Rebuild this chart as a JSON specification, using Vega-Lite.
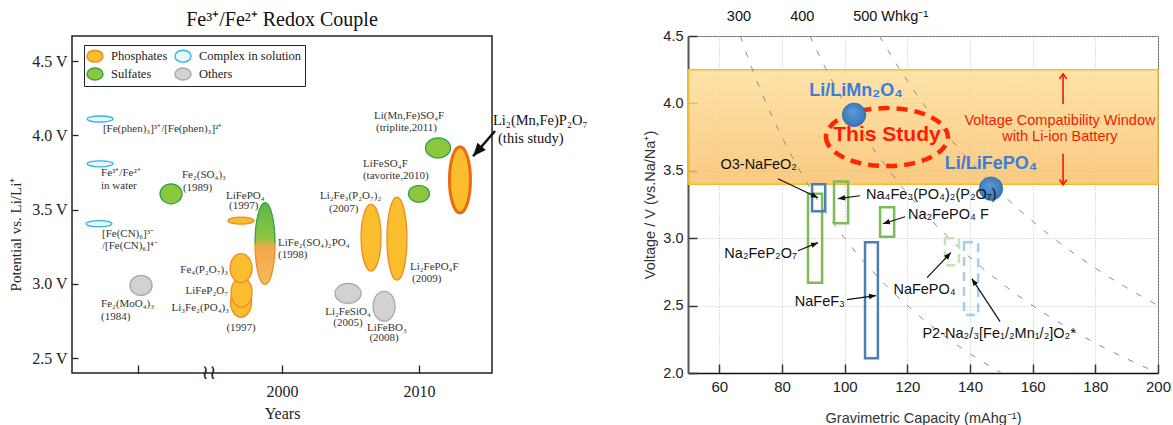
{
  "$schema": "https://vega.github.io/schema/vega-lite/v6.json",
  "background": "white",
  "padding": {"left": 7, "top": 8, "right": 5, "bottom": 2},
  "bounds": "flush",
  "spacing": 196,
  "config": {"view": {"stroke": null}, "font": "Liberation Sans"},
  "datasets": {
    "ell": [
      {"name": "[Fe(phen)₃]", "type": "Complex in solution", "year": 1986.72, "v": 4.111},
      {"name": "Fe³⁺/Fe²⁺ aq", "type": "Complex in solution", "year": 1986.72, "v": 3.809},
      {"name": "[Fe(CN)₆]", "type": "Complex in solution", "year": 1986.64, "v": 3.406},
      {"name": "Fe₂(MoO₄)₃", "type": "Others", "year": 1989.71, "v": 2.99},
      {"name": "Li₂FeSiO₄", "type": "Others", "year": 2004.82, "v": 2.936},
      {"name": "LiFeBO₃", "type": "Others", "year": 2007.45, "v": 2.849},
      {"name": "Fe₂(SO₄)₃", "type": "Sulfates", "year": 1991.9, "v": 3.607},
      {"name": "LiFeSO₄F", "type": "Sulfates", "year": 2010.0, "v": 3.607},
      {"name": "Li(Mn,Fe)SO₄F", "type": "Sulfates", "year": 2011.39, "v": 3.916},
      {"name": "LiFePO₄", "type": "Phosphates", "year": 1997.01, "v": 3.426},
      {"name": "Li₃Fe₂(PO₄)₃", "type": "Phosphates", "year": 1997.01, "v": 2.876},
      {"name": "LiFeP₂O₇", "type": "Phosphates", "year": 1997.05, "v": 2.943},
      {"name": "Fe₄(P₂O₇)₃", "type": "Phosphates", "year": 1997.01, "v": 3.107},
      {"name": "Li₂Fe₃(P₂O₇)₂", "type": "Phosphates", "year": 2006.5, "v": 3.312},
      {"name": "Li₂FePO₄F", "type": "Phosphates", "year": 2008.39, "v": 3.305}
    ],
    "ell_grad": [{"name": "LiFe₂(SO₄)₂PO₄", "year": 1998.76, "v": 3.272}],
    "ell_study": [{"name": "Li₂(Mn,Fe)P₂O₇", "year": 2012.99, "v": 3.701}],
    "big_arrow": [{"year": 2015.55, "v": 4.03, "year2": 2013.95, "v2": 3.86}],
    "brk": [{"year": 1994.67, "v": 2.4, "label": "≀≀"}],
    "lt_left": [
      {"label": "[Fe(phen)₃]³⁺/[Fe(phen)₃]²⁺", "year": 1986.93, "v": 4.044},
      {"label": "Fe³⁺/Fe²⁺", "year": 1986.79, "v": 3.748},
      {"label": "in water", "year": 1986.79, "v": 3.661},
      {"label": "Fe₂(SO₄)₃", "year": 1992.7, "v": 3.735},
      {"label": "(1989)", "year": 1992.77, "v": 3.648},
      {"label": "LiFePO₄", "year": 1995.91, "v": 3.594},
      {"label": "(1997)", "year": 1996.13, "v": 3.527},
      {"label": "[Fe(CN)₆]³⁻", "year": 1986.86, "v": 3.339},
      {"label": "/[Fe(CN)₆]⁴⁻", "year": 1986.86, "v": 3.258},
      {"label": "Fe₂(MoO₄)₃", "year": 1986.79, "v": 2.862},
      {"label": "(1984)", "year": 1986.79, "v": 2.775},
      {"label": "LiFe₂(SO₄)₂PO₄", "year": 1999.71, "v": 3.279},
      {"label": "(1998)", "year": 1999.71, "v": 3.198},
      {"label": "Li₂Fe₃(P₂O₇)₂", "year": 2002.77, "v": 3.594},
      {"label": "(2007)", "year": 2003.43, "v": 3.507},
      {"label": "LiFeSO₄F", "year": 2005.91, "v": 3.809},
      {"label": "(tavorite,2010)", "year": 2005.91, "v": 3.728},
      {"label": "Li(Mn,Fe)SO₄F", "year": 2006.72, "v": 4.131},
      {"label": "(triplite,2011)", "year": 2006.86, "v": 4.05},
      {"label": "Li₂FePO₄F", "year": 2009.34, "v": 3.111},
      {"label": "(2009)", "year": 2009.49, "v": 3.03}
    ],
    "lt_right": [
      {"label": "Fe₄(P₂O₇)₃", "year": 1996.06, "v": 3.097},
      {"label": "LiFeP₂O₇", "year": 1996.06, "v": 2.95},
      {"label": "Li₃Fe₂(PO₄)₃", "year": 1996.13, "v": 2.836}
    ],
    "lt_center": [
      {"label": "(1997)", "year": 1997.01, "v": 2.701},
      {"label": "Li₂FeSiO₄", "year": 2004.82, "v": 2.809},
      {"label": "(2005)", "year": 2004.82, "v": 2.735},
      {"label": "LiFeBO₃", "year": 2007.66, "v": 2.701},
      {"label": "(2008)", "year": 2007.45, "v": 2.634}
    ],
    "lt_big": [
      {"label": "Li₂(Mn,Fe)P₂O₇", "year": 2015.4, "v": 4.097},
      {"label": "(this study)", "year": 2015.77, "v": 3.977}
    ],
    "band": [{"v": 3.4, "v2": 4.25}],
    "energy": [
      {"e": 300, "c": 66.67, "v": 4.5}, {"e": 300, "c": 70, "v": 4.286}, {"e": 300, "c": 75, "v": 4.0},
      {"e": 300, "c": 80, "v": 3.75}, {"e": 300, "c": 90, "v": 3.333}, {"e": 300, "c": 100, "v": 3.0},
      {"e": 300, "c": 110, "v": 2.727}, {"e": 300, "c": 120, "v": 2.5}, {"e": 300, "c": 135, "v": 2.222},
      {"e": 300, "c": 150, "v": 2.0},
      {"e": 400, "c": 88.89, "v": 4.5}, {"e": 400, "c": 95, "v": 4.211}, {"e": 400, "c": 100, "v": 4.0},
      {"e": 400, "c": 110, "v": 3.636}, {"e": 400, "c": 120, "v": 3.333}, {"e": 400, "c": 135, "v": 2.963},
      {"e": 400, "c": 150, "v": 2.667}, {"e": 400, "c": 165, "v": 2.424}, {"e": 400, "c": 180, "v": 2.222},
      {"e": 400, "c": 200, "v": 2.0},
      {"e": 500, "c": 111.11, "v": 4.5}, {"e": 500, "c": 115, "v": 4.348}, {"e": 500, "c": 120, "v": 4.167},
      {"e": 500, "c": 130, "v": 3.846}, {"e": 500, "c": 140, "v": 3.571}, {"e": 500, "c": 150, "v": 3.333},
      {"e": 500, "c": 165, "v": 3.03}, {"e": 500, "c": 180, "v": 2.778}, {"e": 500, "c": 200, "v": 2.5}
    ],
    "box_green": [
      {"name": "Na₂FeP₂O₇", "c": 88.3, "c2": 92.8, "v": 2.67, "v2": 3.33},
      {"name": "Na₄Fe₃(PO₄)₂(P₂O₇)", "c": 96.6, "c2": 101.1, "v": 3.11, "v2": 3.42},
      {"name": "Na₂FePO₄F", "c": 111.3, "c2": 115.8, "v": 3.01, "v2": 3.23}
    ],
    "box_blue": [
      {"name": "O3-NaFeO₂", "c": 89.6, "c2": 93.8, "v": 3.2, "v2": 3.4},
      {"name": "NaFeF₃", "c": 106.5, "c2": 110.6, "v": 2.11, "v2": 2.97}
    ],
    "box_lgreen": [{"name": "NaFePO₄", "c": 132.0, "c2": 136.5, "v": 2.8, "v2": 3.0}],
    "box_lblue": [{"name": "P2-Na₂/₃[Fe₁/₂Mn₁/₂]O₂", "c": 138.1, "c2": 142.6, "v": 2.43, "v2": 2.97}],
    "arrows": [
      {"c": 78.7, "v": 3.441, "c2": 91.5, "v2": 3.3},
      {"c": 104.9, "v": 3.315, "c2": 97.9, "v2": 3.293},
      {"c": 119.3, "v": 3.159, "c2": 112.2, "v2": 3.107},
      {"c": 85.1, "v": 2.907, "c2": 91.5, "v2": 2.967},
      {"c": 100.7, "v": 2.544, "c2": 110.0, "v2": 2.574},
      {"c": 126.3, "v": 2.707, "c2": 133.9, "v2": 2.893},
      {"c": 149.6, "v": 2.381, "c2": 140.6, "v2": 2.7}
    ],
    "red_arrows": [
      {"c": 169.7, "v": 3.996, "c2": 169.7, "v2": 4.219},
      {"c": 169.7, "v": 3.626, "c2": 169.7, "v2": 3.396}
    ],
    "refs": [
      {"name": "Li/LiMn₂O₄", "c": 103.0, "v": 3.915},
      {"name": "Li/LiFePO₄", "c": 146.7, "v": 3.367}
    ],
    "ref_labels": [
      {"label": "Li/LiMn₂O₄", "c": 103.6, "v": 4.089},
      {"label": "Li/LiFePO₄", "c": 146.7, "v": 3.552}
    ],
    "study_ring": [{"c": 113.5, "v": 3.75}],
    "study_label": [{"label": "This Study", "c": 113.5, "v": 3.767}],
    "window_label": [
      {"label": "Voltage Compatibility Window", "c": 168.7, "v": 3.87},
      {"label": "with Li-ion Battery", "c": 168.7, "v": 3.752}
    ],
    "r_left": [
      {"label": "Na₄Fe₃(PO₄)₂(P₂O₇)", "c": 106.8, "v": 3.322},
      {"label": "Na₂FePO₄ F", "c": 120.2, "v": 3.174}
    ],
    "r_right": [
      {"label": "O3-NaFeO₂", "c": 84.79, "v": 3.544},
      {"label": "Na₂FeP₂O₇", "c": 84.79, "v": 2.885},
      {"label": "NaFeF₃", "c": 100.11, "v": 2.53}
    ],
    "r_center": [
      {"label": "NaFePO₄", "c": 125.5, "v": 2.619},
      {"label": "P2-Na₂/₃[Fe₁/₂Mn₁/₂]O₂*", "c": 149.3, "v": 2.293}
    ],
    "top_labels": [
      {"label": "300", "c": 62.4, "v": 4.641},
      {"label": "400", "c": 82.6, "v": 4.641},
      {"label": "500 Whkg⁻¹", "c": 102.7, "v": 4.641}
    ]
  },
  "hconcat": [
    {
      "width": 420,
      "height": 337,
      "view": {"stroke": "#222", "strokeWidth": 1.5},
      "title": {"text": "Fe³⁺/Fe²⁺ Redox Couple", "font": "Liberation Serif", "fontSize": 20, "fontWeight": "normal", "color": "#111", "offset": 6},
      "layer": [
        {
          "data": {"name": "ell"},
          "mark": {"type": "point", "filled": true, "opacity": 1, "size": 4, "strokeWidth": 1.3},
          "encoding": {
            "x": {
              "field": "year", "type": "quantitative",
              "scale": {"domain": [1984.67, 2015.33], "nice": false, "zero": false},
              "axis": {
                "title": "Years", "values": [1989.5, 2000, 2010],
                "labelExpr": "datum.value < 1995 ? '' : format(datum.value, 'd')",
                "grid": false, "domain": false, "tickSize": -8, "tickColor": "#222", "tickWidth": 1.3,
                "labelPadding": 18, "labelFlush": false, "labelFont": "Liberation Serif", "labelFontSize": 16, "labelColor": "#222",
                "titleFont": "Liberation Serif", "titleFontSize": 16, "titleFontWeight": "normal", "titleColor": "#222", "titlePadding": 6
              }
            },
            "y": {
              "field": "v", "type": "quantitative",
              "scale": {"domain": [2.4, 4.67], "nice": false, "zero": false},
              "axis": {
                "title": "Potential vs. Li/Li⁺", "values": [2.5, 3, 3.5, 4, 4.5],
                "labelExpr": "format(datum.value, '.1f') + ' V'",
                "grid": false, "domain": false, "tickSize": -6, "tickColor": "#222", "tickWidth": 1.3,
                "labelPadding": 11, "labelFont": "Liberation Serif", "labelFontSize": 16, "labelColor": "#222",
                "titleFont": "Liberation Serif", "titleFontSize": 15, "titleFontWeight": "normal", "titleColor": "#222",
                "titleX": -57, "titleY": 198, "titleAngle": -90, "titleBaseline": "middle", "titleAlign": "center"
              }
            },
            "shape": {
              "field": "name", "type": "nominal", "legend": null,
              "scale": {
                "domain": ["[Fe(phen)₃]", "Fe³⁺/Fe²⁺ aq", "[Fe(CN)₆]", "Fe₂(MoO₄)₃", "Li₂FeSiO₄", "LiFeBO₃", "Fe₂(SO₄)₃", "LiFeSO₄F", "Li(Mn,Fe)SO₄F", "LiFePO₄", "Li₃Fe₂(PO₄)₃", "LiFeP₂O₇", "Fe₄(P₂O₇)₃", "Li₂Fe₃(P₂O₇)₂", "Li₂FePO₄F"],
                "range": [
                  "M-13,0A13,3 0 1,0 13,0A13,3 0 1,0 -13,0Z",
                  "M-13,0A13,3 0 1,0 13,0A13,3 0 1,0 -13,0Z",
                  "M-13,0A13,3 0 1,0 13,0A13,3 0 1,0 -13,0Z",
                  "M-11,0A11,10 0 1,0 11,0A11,10 0 1,0 -11,0Z",
                  "M-13,0A13,10 0 1,0 13,0A13,10 0 1,0 -13,0Z",
                  "M-11,0A11,15 0 1,0 11,0A11,15 0 1,0 -11,0Z",
                  "M-11,0A11,10 0 1,0 11,0A11,10 0 1,0 -11,0Z",
                  "M-10.5,0A10.5,8.5 0 1,0 10.5,0A10.5,8.5 0 1,0 -10.5,0Z",
                  "M-12.5,0A12.5,10 0 1,0 12.5,0A12.5,10 0 1,0 -12.5,0Z",
                  "M-13,0A13,3.5 0 1,0 13,0A13,3.5 0 1,0 -13,0Z",
                  "M-10.5,0A10.5,15 0 1,0 10.5,0A10.5,15 0 1,0 -10.5,0Z",
                  "M-10.5,0A10.5,15 0 1,0 10.5,0A10.5,15 0 1,0 -10.5,0Z",
                  "M-11,0A11,14.5 0 1,0 11,0A11,14.5 0 1,0 -11,0Z",
                  "M-10,0A10,33.5 0 1,0 10,0A10,33.5 0 1,0 -10,0Z",
                  "M-10,0A10,41.5 0 1,0 10,0A10,41.5 0 1,0 -10,0Z"
                ]
              }
            },
            "fill": {
              "field": "type", "type": "nominal",
              "scale": {"domain": ["Phosphates", "Sulfates", "Complex in solution", "Others"], "range": ["#F9BD2E", "#8DC63F", "#EAF6FB", "#D2D2D2"]},
              "legend": {
                "title": null, "orient": "none", "legendX": 12, "legendY": 9, "columns": 2,
                "strokeColor": "#222", "fillColor": "white", "padding": 3, "columnPadding": 4, "rowPadding": 0,
                "symbolType": "M-1.15,0A1.15,0.85 0 1,0 1.15,0A1.15,0.85 0 1,0 -1.15,0Z", "symbolSize": 196, "symbolStrokeWidth": 1.4, "symbolOpacity": 1,
                "labelFont": "Liberation Serif", "labelFontSize": 12.5, "labelColor": "#222", "labelOffset": 8
              }
            },
            "stroke": {
              "field": "type", "type": "nominal",
              "scale": {"domain": ["Phosphates", "Sulfates", "Complex in solution", "Others"], "range": ["#F08A24", "#2FA24A", "#33B5E5", "#A8A8A8"]},
              "legend": {
                "title": null, "orient": "none", "legendX": 12, "legendY": 9, "columns": 2,
                "strokeColor": "#222", "fillColor": "white", "padding": 3, "columnPadding": 4, "rowPadding": 0,
                "symbolType": "M-1.15,0A1.15,0.85 0 1,0 1.15,0A1.15,0.85 0 1,0 -1.15,0Z", "symbolSize": 196, "symbolStrokeWidth": 1.4, "symbolOpacity": 1,
                "labelFont": "Liberation Serif", "labelFontSize": 12.5, "labelColor": "#222", "labelOffset": 8
              }
            }
          }
        },
        {
          "data": {"name": "ell_grad"},
          "mark": {
            "type": "point", "filled": true, "opacity": 1, "size": 4, "strokeWidth": 1.3,
            "shape": "M-10,0A10,41 0 1,0 10,0A10,41 0 1,0 -10,0Z",
            "fill": {"gradient": "linear", "x1": 0, "y1": 0, "x2": 0, "y2": 1, "stops": [
              {"offset": 0, "color": "#5DB847"}, {"offset": 0.42, "color": "#8CC541"},
              {"offset": 0.55, "color": "#F2A84A"}, {"offset": 1, "color": "#F6BA5E"}]},
            "stroke": {"gradient": "linear", "x1": 0, "y1": 0, "x2": 0, "y2": 1, "stops": [
              {"offset": 0, "color": "#2FA24A"}, {"offset": 0.48, "color": "#2FA24A"},
              {"offset": 0.52, "color": "#F08A24"}, {"offset": 1, "color": "#F08A24"}]}
          },
          "encoding": {
            "x": {"field": "year", "type": "quantitative"},
            "y": {"field": "v", "type": "quantitative"}
          }
        },
        {
          "data": {"name": "ell_study"},
          "mark": {
            "type": "point", "filled": true, "opacity": 1, "size": 4, "strokeWidth": 3,
            "shape": "M-10.5,0A10.5,33 0 1,0 10.5,0A10.5,33 0 1,0 -10.5,0Z",
            "fill": "#F9BD2E", "stroke": "#EE6A12"
          },
          "encoding": {
            "x": {"field": "year", "type": "quantitative"},
            "y": {"field": "v", "type": "quantitative"}
          }
        },
        {
          "data": {"name": "big_arrow"},
          "mark": {"type": "rule", "color": "#111", "strokeWidth": 2.5},
          "encoding": {
            "x": {"field": "year", "type": "quantitative"},
            "y": {"field": "v", "type": "quantitative"},
            "x2": {"field": "year2"},
            "y2": {"field": "v2"}
          }
        },
        {
          "data": {"name": "big_arrow"},
          "transform": [{"calculate": "atan2((datum.year2 - datum.year) * 13.7, (datum.v2 - datum.v) * 149) * 180 / PI", "as": "ang"}],
          "mark": {"type": "point", "filled": true, "opacity": 1, "size": 169, "shape": "M0,0L-0.85,2L0.85,2Z", "color": "#111"},
          "encoding": {
            "x": {"field": "year2", "type": "quantitative"},
            "y": {"field": "v2", "type": "quantitative"},
            "angle": {"field": "ang", "type": "quantitative", "scale": null}
          }
        },
        {
          "data": {"name": "brk"},
          "mark": {"type": "text", "font": "DejaVu Sans", "fontSize": 20, "color": "#222", "baseline": "middle", "align": "center"},
          "encoding": {
            "x": {"field": "year", "type": "quantitative"},
            "y": {"field": "v", "type": "quantitative"},
            "text": {"field": "label"}
          }
        },
        {
          "data": {"name": "lt_left"},
          "mark": {"type": "text", "font": "Liberation Serif", "fontSize": 11, "color": "#333", "align": "left", "baseline": "middle"},
          "encoding": {
            "x": {"field": "year", "type": "quantitative"},
            "y": {"field": "v", "type": "quantitative"},
            "text": {"field": "label"}
          }
        },
        {
          "data": {"name": "lt_right"},
          "mark": {"type": "text", "font": "Liberation Serif", "fontSize": 11, "color": "#333", "align": "right", "baseline": "middle"},
          "encoding": {
            "x": {"field": "year", "type": "quantitative"},
            "y": {"field": "v", "type": "quantitative"},
            "text": {"field": "label"}
          }
        },
        {
          "data": {"name": "lt_center"},
          "mark": {"type": "text", "font": "Liberation Serif", "fontSize": 11, "color": "#333", "align": "center", "baseline": "middle"},
          "encoding": {
            "x": {"field": "year", "type": "quantitative"},
            "y": {"field": "v", "type": "quantitative"},
            "text": {"field": "label"}
          }
        },
        {
          "data": {"name": "lt_big"},
          "mark": {"type": "text", "font": "Liberation Serif", "fontSize": 14.5, "color": "#111", "align": "left", "baseline": "middle"},
          "encoding": {
            "x": {"field": "year", "type": "quantitative"},
            "y": {"field": "v", "type": "quantitative"},
            "text": {"field": "label"}
          }
        }
      ]
    },
    {
      "width": 470,
      "height": 337,
      "view": {"stroke": "#666", "strokeWidth": 1},
      "layer": [
        {
          "data": {"name": "band"},
          "mark": {
            "type": "rect", "fillOpacity": 0.82, "stroke": "#F5BD2A", "strokeWidth": 1.5,
            "fill": {"gradient": "linear", "x1": 0, "y1": 0, "x2": 0, "y2": 1, "stops": [
              {"offset": 0, "color": "#FEDD97"}, {"offset": 1, "color": "#F8BE66"}]}
          },
          "encoding": {
            "y": {"field": "v", "type": "quantitative", "scale": {"domain": [2.0, 4.5], "nice": false, "zero": false}},
            "y2": {"field": "v2"}
          }
        },
        {
          "data": {"name": "energy"},
          "mark": {"type": "line", "clip": true, "interpolate": "monotone", "stroke": "#8C8C8C", "strokeWidth": 1, "strokeDash": [6, 10]},
          "encoding": {
            "x": {
              "field": "c", "type": "quantitative",
              "scale": {"domain": [50, 200], "nice": false, "zero": false},
              "axis": {
                "title": "Gravimetric Capacity (mAhg⁻¹)", "values": [60, 80, 100, 120, 140, 160, 180, 200],
                "grid": true, "gridColor": "#BDBDBD", "gridDash": [1, 2], "gridWidth": 1,
                "domainColor": "#111", "domainWidth": 1.5, "tickSize": -9, "tickColor": "#333", "tickWidth": 1.5,
                "labelPadding": 15, "labelFlush": false, "labelFont": "Liberation Sans", "labelFontSize": 15, "labelColor": "#222",
                "titleFont": "Liberation Sans", "titleFontSize": 14.5, "titleFontWeight": "normal", "titleColor": "#333", "titlePadding": 17
              }
            },
            "y": {
              "field": "v", "type": "quantitative",
              "scale": {"domain": [2.0, 4.5], "nice": false, "zero": false},
              "axis": {
                "title": "Voltage / V (vs.Na/Na⁺)", "values": [2.0, 2.5, 3.0, 3.5, 4.0, 4.5], "format": ".1f",
                "grid": true, "gridColor": "#BDBDBD", "gridDash": [1, 2], "gridWidth": 1,
                "domainColor": "#555", "domainWidth": 2, "tickSize": -9, "tickColor": "#333", "tickWidth": 1.5,
                "labelPadding": 14, "labelFont": "Liberation Sans", "labelFontSize": 14.5, "labelColor": "#222",
                "titleFont": "Liberation Sans", "titleFontSize": 14.5, "titleFontWeight": "normal", "titleColor": "#333", "titlePadding": 5
              }
            },
            "detail": {"field": "e", "type": "nominal"}
          }
        },
        {
          "data": {"name": "box_green"},
          "mark": {"type": "rect", "fillOpacity": 0, "stroke": "#7CBB55", "strokeWidth": 2.5},
          "encoding": {
            "x": {"field": "c", "type": "quantitative"}, "x2": {"field": "c2"},
            "y": {"field": "v", "type": "quantitative"}, "y2": {"field": "v2"}
          }
        },
        {
          "data": {"name": "box_blue"},
          "mark": {"type": "rect", "fillOpacity": 0, "stroke": "#4C7FB3", "strokeWidth": 2.5},
          "encoding": {
            "x": {"field": "c", "type": "quantitative"}, "x2": {"field": "c2"},
            "y": {"field": "v", "type": "quantitative"}, "y2": {"field": "v2"}
          }
        },
        {
          "data": {"name": "box_lgreen"},
          "mark": {"type": "rect", "fillOpacity": 0, "stroke": "#C5E3B3", "strokeWidth": 2.5, "strokeDash": [9, 6]},
          "encoding": {
            "x": {"field": "c", "type": "quantitative"}, "x2": {"field": "c2"},
            "y": {"field": "v", "type": "quantitative"}, "y2": {"field": "v2"}
          }
        },
        {
          "data": {"name": "box_lblue"},
          "mark": {"type": "rect", "fillOpacity": 0, "stroke": "#A8CCEB", "strokeWidth": 2.5, "strokeDash": [9, 6]},
          "encoding": {
            "x": {"field": "c", "type": "quantitative"}, "x2": {"field": "c2"},
            "y": {"field": "v", "type": "quantitative"}, "y2": {"field": "v2"}
          }
        },
        {
          "data": {"name": "arrows"},
          "mark": {"type": "rule", "color": "#111", "strokeWidth": 1.2},
          "encoding": {
            "x": {"field": "c", "type": "quantitative"}, "x2": {"field": "c2"},
            "y": {"field": "v", "type": "quantitative"}, "y2": {"field": "v2"}
          }
        },
        {
          "data": {"name": "arrows"},
          "transform": [{"calculate": "atan2((datum.c2 - datum.c) * 3.133, (datum.v2 - datum.v) * 135) * 180 / PI", "as": "ang"}],
          "mark": {"type": "point", "filled": true, "opacity": 1, "size": 49, "shape": "M0,0L-0.8,2L0.8,2Z", "color": "#111"},
          "encoding": {
            "x": {"field": "c2", "type": "quantitative"},
            "y": {"field": "v2", "type": "quantitative"},
            "angle": {"field": "ang", "type": "quantitative", "scale": null}
          }
        },
        {
          "data": {"name": "red_arrows"},
          "mark": {"type": "rule", "color": "#F21B00", "strokeWidth": 1.6},
          "encoding": {
            "x": {"field": "c", "type": "quantitative"}, "x2": {"field": "c2"},
            "y": {"field": "v", "type": "quantitative"}, "y2": {"field": "v2"}
          }
        },
        {
          "data": {"name": "red_arrows"},
          "transform": [{"calculate": "atan2((datum.c2 - datum.c) * 3.133, (datum.v2 - datum.v) * 135) * 180 / PI", "as": "ang"}],
          "mark": {"type": "point", "filled": false, "opacity": 1, "size": 64, "shape": "M-0.9,1.3L0,0L0.9,1.3", "stroke": "#F21B00", "strokeWidth": 1.6},
          "encoding": {
            "x": {"field": "c2", "type": "quantitative"},
            "y": {"field": "v2", "type": "quantitative"},
            "angle": {"field": "ang", "type": "quantitative", "scale": null}
          }
        },
        {
          "data": {"name": "study_ring"},
          "mark": {"type": "point", "filled": false, "opacity": 1, "size": 4, "shape": "M-61,0A61,29 0 1,0 61,0A61,29 0 1,0 -61,0Z", "stroke": "#FF2600", "strokeWidth": 4.5, "strokeDash": [11, 7]},
          "encoding": {
            "x": {"field": "c", "type": "quantitative"},
            "y": {"field": "v", "type": "quantitative"}
          }
        },
        {
          "data": {"name": "refs"},
          "mark": {
            "type": "point", "filled": true, "opacity": 1, "shape": "circle", "size": 560, "stroke": "#2F6196", "strokeWidth": 0.5,
            "fill": {"gradient": "radial", "x1": 0.42, "y1": 0.35, "r1": 0, "x2": 0.5, "y2": 0.5, "r2": 0.6, "stops": [
              {"offset": 0, "color": "#5E9AD6"}, {"offset": 0.7, "color": "#3F7EC0"}, {"offset": 1, "color": "#2C62A0"}]}
          },
          "encoding": {
            "x": {"field": "c", "type": "quantitative"},
            "y": {"field": "v", "type": "quantitative"}
          }
        },
        {
          "data": {"name": "ref_labels"},
          "mark": {"type": "text", "font": "Liberation Sans", "fontSize": 18, "fontWeight": "bold", "color": "#3C7DD9", "align": "center", "baseline": "middle"},
          "encoding": {
            "x": {"field": "c", "type": "quantitative"},
            "y": {"field": "v", "type": "quantitative"},
            "text": {"field": "label"}
          }
        },
        {
          "data": {"name": "study_label"},
          "mark": {"type": "text", "font": "Liberation Sans", "fontSize": 21, "fontWeight": "bold", "color": "#FF1A00", "align": "center", "baseline": "middle"},
          "encoding": {
            "x": {"field": "c", "type": "quantitative"},
            "y": {"field": "v", "type": "quantitative"},
            "text": {"field": "label"}
          }
        },
        {
          "data": {"name": "window_label"},
          "mark": {"type": "text", "font": "Liberation Sans", "fontSize": 14.5, "color": "#F21B00", "align": "center", "baseline": "middle"},
          "encoding": {
            "x": {"field": "c", "type": "quantitative"},
            "y": {"field": "v", "type": "quantitative"},
            "text": {"field": "label"}
          }
        },
        {
          "data": {"name": "r_left"},
          "mark": {"type": "text", "font": "Liberation Sans", "fontSize": 14.5, "color": "#111", "align": "left", "baseline": "middle"},
          "encoding": {
            "x": {"field": "c", "type": "quantitative"},
            "y": {"field": "v", "type": "quantitative"},
            "text": {"field": "label"}
          }
        },
        {
          "data": {"name": "r_right"},
          "mark": {"type": "text", "font": "Liberation Sans", "fontSize": 14.5, "color": "#111", "align": "right", "baseline": "middle"},
          "encoding": {
            "x": {"field": "c", "type": "quantitative"},
            "y": {"field": "v", "type": "quantitative"},
            "text": {"field": "label"}
          }
        },
        {
          "data": {"name": "r_center"},
          "mark": {"type": "text", "font": "Liberation Sans", "fontSize": 14.5, "color": "#111", "align": "center", "baseline": "middle"},
          "encoding": {
            "x": {"field": "c", "type": "quantitative"},
            "y": {"field": "v", "type": "quantitative"},
            "text": {"field": "label"}
          }
        },
        {
          "data": {"name": "top_labels"},
          "mark": {"type": "text", "font": "Liberation Sans", "fontSize": 14.5, "color": "#111", "align": "left", "baseline": "middle"},
          "encoding": {
            "x": {"field": "c", "type": "quantitative"},
            "y": {"field": "v", "type": "quantitative"},
            "text": {"field": "label"}
          }
        }
      ]
    }
  ]
}
